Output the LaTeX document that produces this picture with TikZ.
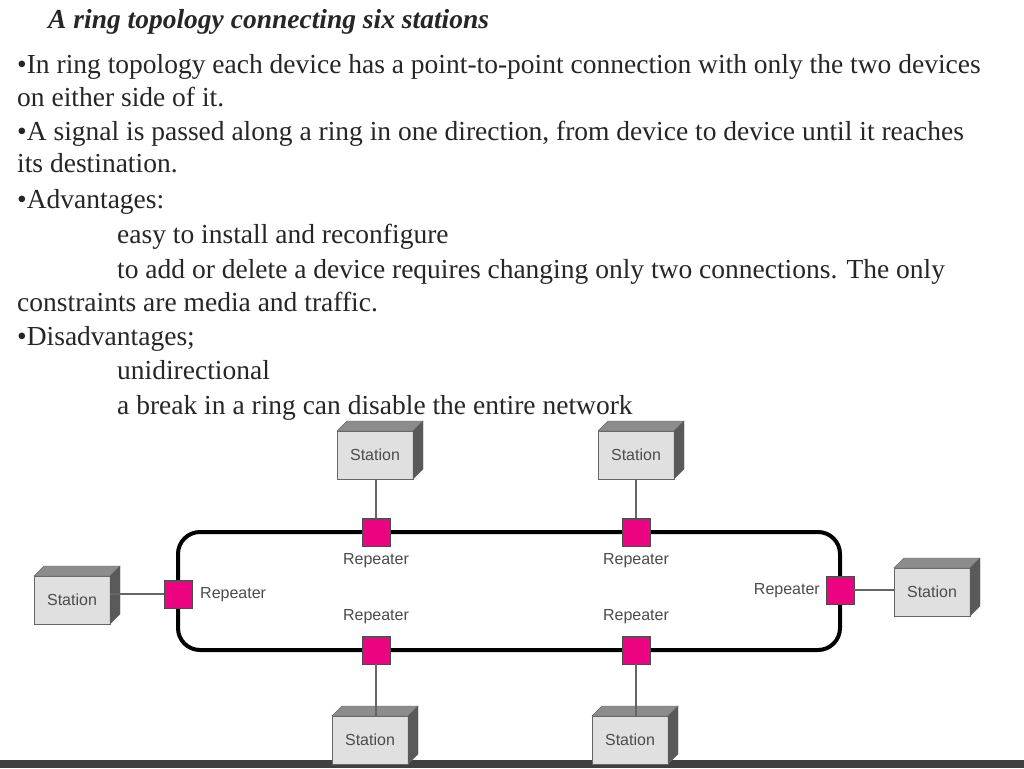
\documentclass[tikz,border=0pt]{standalone}
\usepackage{fontspec}
\setmainfont{Liberation Serif}
\newfontfamily\lab{Liberation Sans}
\begin{document}
\begin{tikzpicture}[x=1pt,y=-1pt,
 txt/.style={anchor=base west,inner sep=0pt,font=\fontsize{27.5}{30}\selectfont,text=black!85},
 rep/.style={draw=black!70,fill=magenta!90!red,minimum size=28pt,inner sep=0pt,line width=0.8pt},
 st/.style={draw=black!60,fill=black!12,minimum width=76pt,minimum height=48pt,inner sep=0pt,font=\lab\fontsize{16}{16}\selectfont,text=black!70},
 rl/.style={font=\lab\fontsize{16}{16}\selectfont,text=black!70,inner sep=0pt},
 wire/.style={draw=black!60,line width=1.2pt}]
\useasboundingbox (0,0) rectangle (1024,768);
\fill[white] (0,0) rectangle (1024,768);
\fill[black!75] (0,760) rectangle (1024,768);
\node[txt,font=\bfseries\itshape\fontsize{27.5}{30}\selectfont] (title) at (48,29) {A ring topology connecting six stations};
\node[txt] (l1) at (17,74) {•In ring topology each device has a point-to-point connection with only the two devices};
\node[txt] (l2) at (17,106) {on either side of it.};
\node[txt] (l3) at (17,140) {•A signal is passed along a ring in one direction, from device to device until it reaches};
\node[txt] (l4) at (17,172) {its destination.};
\node[txt] (l5) at (17,208) {•Advantages:};
\node[txt] (l6) at (117,243) {easy to install and reconfigure};
\node[txt] (l7) at (117,278) {to add or delete a device requires changing only two connections. The only};
\node[txt] (l8) at (17,311) {constraints are media and traffic.};
\node[txt] (l9) at (17,345) {•Disadvantages;};
\node[txt] (l10) at (117,379) {unidirectional};
\node[txt] (l11) at (117,414) {a break in a ring can disable the entire network};
% ring
\draw[line width=4pt,rounded corners=22pt] (178,532) rectangle (840,650);
% stations
\newcommand{\stationbox}[3]{%
 \node[st] (#1) at (#2,#3) {Station};
 \fill[black!45,draw=black!60] (#2-38,#3-24) -- (#2-28,#3-34) -- (#2+48,#3-34) -- (#2+38,#3-24) -- cycle;
 \fill[black!65,draw=black!60] (#2+38,#3-24) -- (#2+48,#3-34) -- (#2+48,#3+14) -- (#2+38,#3+24) -- cycle;}
\stationbox{s1}{375}{455}
\stationbox{s2}{636}{455}
\stationbox{s3}{72}{600}
\stationbox{s4}{932}{592}
\stationbox{s5}{370}{740}
\stationbox{s6}{630}{740}
% repeaters
\node[rep] (r1) at (376,532) {};
\node[rep] (r2) at (636,532) {};
\node[rep] (r3) at (178,594) {};
\node[rep] (r4) at (840,590) {};
\node[rep] (r5) at (376,650) {};
\node[rep] (r6) at (636,650) {};
\draw[wire] (r1) -- (r1 |- s1.south); \draw[wire] (r2) -- (r2 |- s2.south);
\draw[wire] (r3) -- (r3 -| s3.east); \draw[wire] (r4) -- (r4 -| s4.west);
\draw[wire] (r5) -- (r5 |- s5.north); \draw[wire] (r6) -- (r6 |- s6.north);
\node[rl] (t1) at (376,561) {Repeater};
\node[rl] (t2) at (636,561) {Repeater};
\node[rl,anchor=west] (t3) at (200,595) {Repeater};
\node[rl,anchor=east] (t4) at (820,591) {Repeater};
\node[rl] (t5) at (376,617) {Repeater};
\node[rl] (t6) at (636,617) {Repeater};
\end{tikzpicture}
\end{document}
